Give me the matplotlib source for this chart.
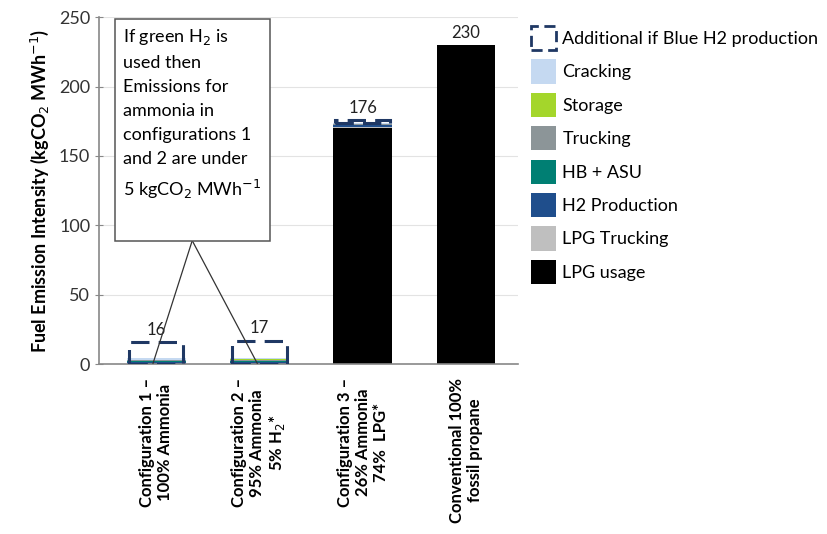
import numpy as np
import matplotlib
matplotlib.use('Agg')
from matplotlib import pyplot as plt
from matplotlib.patches import Rectangle

plt.rcParams['font.family'] = ['Lato', 'DejaVu Sans']

# categories and stacked components (kgCO2 / MWh)
categories = ['Configuration 1 –\n100% Ammonia',
              'Configuration 2 –\n95% Ammonia\n5% H$_2$*',
              'Configuration 3 –\n26% Ammonia\n74%  LPG*',
              'Conventional 100%\nfossil propane']
lpg_usage = [0, 0, 170, 230]
lpg_trucking = [0, 0, 1.0, 0]
h2_production = [1.5, 1.6, 1.0, 0]
hb_asu = [1.0, 1.0, 0.5, 0]
trucking = [0.5, 0.5, 0.3, 0]
storage = [0.3, 0.3, 0.2, 0]
cracking = [1.0, 1.0, 0.5, 0]
additional_blue = [11.7, 12.6, 2.5, 0]
totals = [16, 17, 176, 230]

components = [
    ('LPG usage', lpg_usage, '#000000'),
    ('LPG Trucking', lpg_trucking, '#bfbfbf'),
    ('H2 Production', h2_production, '#1f4e8c'),
    ('HB + ASU', hb_asu, '#007f73'),
    ('Trucking', trucking, '#8c9598'),
    ('Storage', storage, '#a4d62b'),
    ('Cracking', cracking, '#c5d9f1'),
]
dash_col = '#1f3864'

fig = plt.figure(figsize=(8.27, 5.34), dpi=100)
ax = fig.add_axes([0.12, 0.318, 0.506, 0.65])

x = np.arange(len(categories))
w = 0.57
bottom = np.zeros(len(categories))
handles = {}
for name, vals, col in components:
    b = ax.bar(x, vals, w, bottom=bottom, color=col, zorder=2)
    handles[name] = b
    bottom += np.array(vals)

for i in range(len(categories)):
    if additional_blue[i] > 0:
        if totals[i] > 100:
            y0, h = bottom[i], additional_blue[i]
        else:
            y0, h = 0, totals[i]
        r = Rectangle((x[i] - w / 2 + 0.02, y0 + 0.3), w - 0.04, h - 0.3,
                      fill=False, edgecolor=dash_col, linewidth=2.2,
                      linestyle=(0, (6, 3)), zorder=3)
        ax.add_patch(r)
    ax.text(x[i], totals[i] + 3, str(totals[i]), ha='center', va='bottom',
            fontsize=12, color='#222222')

ax.set_xlim(-0.55, 3.5)
ax.set_ylim(0, 250)
ax.set_yticks(np.arange(0, 251, 50))
ax.yaxis.grid(True, color='#e3e3e3', linewidth=0.8, zorder=0)
ax.set_axisbelow(True)
for s in ['top', 'right']:
    ax.spines[s].set_visible(False)
for s in ['left', 'bottom']:
    ax.spines[s].set_color('#888888')
    ax.spines[s].set_linewidth(1.2)
ax.tick_params(axis='y', direction='inout', length=6, color='#888888',
               labelsize=13, labelcolor='#333333')
ax.tick_params(axis='x', length=0, pad=10)
ax.set_xticks(x)
ax.set_xticklabels(categories, rotation=90, ha='center', va='top',
                   multialignment='center', fontsize=12, fontweight='bold',
                   linespacing=1.15)
ax.set_ylabel('Fuel Emission Intensity (kgCO$_2$ MWh$^{-1}$)', fontsize=13,
              fontweight='bold', labelpad=6)

# annotation box with pointer lines
ax.annotate('', xy=(-0.03, 0.5), xytext=(0.35, 89),
            arrowprops=dict(arrowstyle='-', color='#333333', lw=0.9,
                            shrinkA=0, shrinkB=0))
ax.annotate('', xy=(0.98, 0.5), xytext=(0.35, 89),
            arrowprops=dict(arrowstyle='-', color='#333333', lw=0.9,
                            shrinkA=0, shrinkB=0))
ax.add_patch(Rectangle((-0.40, 89), 1.50, 159.5, facecolor='white',
                       edgecolor='#555555', linewidth=1.1, zorder=5,
                       clip_on=False))
ax.text(-0.32, 243, 'If green H$_2$ is\nused then\nEmissions for\nammonia in\n'
        'configurations 1\nand 2 are under\n5 kgCO$_2$ MWh$^{-1}$',
        ha='left', va='top', fontsize=13, linespacing=1.62, zorder=6)

# legend
dash_handle = Rectangle((0, 0), 1, 1, fill=False, edgecolor=dash_col,
                        linewidth=2, linestyle=(0, (4, 2)))
leg_names = ['Cracking', 'Storage', 'Trucking', 'HB + ASU', 'H2 Production',
             'LPG Trucking', 'LPG usage']
leg_handles = [dash_handle] + [handles[n] for n in leg_names]
leg_labels = ['Additional if Blue H2 production'] + leg_names
fig.legend(leg_handles, leg_labels, loc='upper left',
           bbox_to_anchor=(0.633, 0.965), frameon=False, fontsize=13,
           handlelength=1.4, handleheight=1.7, handletextpad=0.35,
           labelspacing=0.5, borderaxespad=0)

fig.savefig('out.png', dpi=100)
